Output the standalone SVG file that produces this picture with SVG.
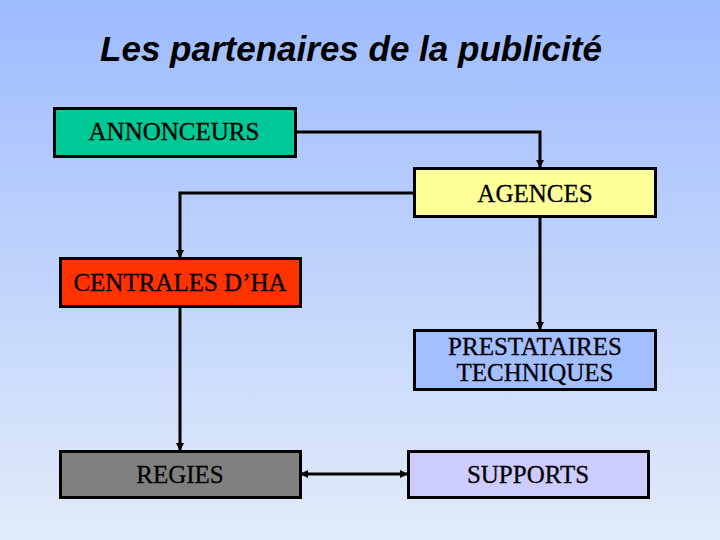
<svg xmlns="http://www.w3.org/2000/svg" width="720" height="540" viewBox="0 0 720 540">
<defs>
<linearGradient id="bg" x1="0" y1="0" x2="0" y2="1">
<stop offset="0" stop-color="#9DBBFF"/>
<stop offset="1" stop-color="#E2EBF9"/>
</linearGradient>
<marker id="ah" markerWidth="8" markerHeight="8" refX="7" refY="4" orient="auto" markerUnits="userSpaceOnUse">
<path d="M0,0 L8,4 L0,8 Z" fill="#000"/>
</marker>
<marker id="as" markerWidth="8" markerHeight="8" refX="1" refY="4" orient="auto" markerUnits="userSpaceOnUse">
<path d="M8,0 L0,4 L8,8 Z" fill="#000"/>
</marker>
<style>
.box{stroke:#000;stroke-width:3}
.lbl{font-family:"Liberation Serif","Times New Roman",serif;font-size:25px;fill:#000;stroke:#000;stroke-width:0.3;text-anchor:middle}
.con{fill:none;stroke:#000;stroke-width:3}
</style>
</defs>
<rect width="720" height="540" fill="url(#bg)"/>
<text x="351" y="61" font-family="'Liberation Sans',Arial,sans-serif" font-size="35" font-weight="bold" font-style="italic" text-anchor="middle" fill="#000">Les partenaires de la publicité</text>
<g id="connectors">
<path class="con" d="M295,132 H540 V167" marker-end="url(#ah)"/>
<path class="con" d="M414,193 H180 V257" marker-end="url(#ah)"/>
<path class="con" d="M540,216 V329" marker-end="url(#ah)"/>
<path class="con" d="M180,306 V450" marker-end="url(#ah)"/>
<path class="con" d="M301,474 H407" marker-start="url(#as)" marker-end="url(#ah)"/>
</g>
<g id="annonceurs">
<rect class="box" x="54.5" y="108.5" width="241" height="48" fill="#00C896"/>
<text class="lbl" x="174" y="140">ANNONCEURS</text>
</g>
<g id="agences">
<rect class="box" x="414.5" y="168.5" width="241" height="48" fill="#FFFF99"/>
<text class="lbl" x="535" y="202">AGENCES</text>
</g>
<g id="centrales">
<rect class="box" x="60.5" y="258.5" width="240" height="48" fill="#FF3300"/>
<text class="lbl" x="180" y="291">CENTRALES D’HA</text>
</g>
<g id="prestataires">
<rect class="box" x="414.5" y="330.5" width="241" height="59" fill="#A3BFFF"/>
<text class="lbl" x="535" y="355">PRESTATAIRES</text>
<text class="lbl" x="535" y="381">TECHNIQUES</text>
</g>
<g id="regies">
<rect class="box" x="60.5" y="451.5" width="240" height="46" fill="#808080"/>
<text class="lbl" x="180" y="483">REGIES</text>
</g>
<g id="supports">
<rect class="box" x="408.5" y="451.5" width="240" height="46" fill="#CCCCFF"/>
<text class="lbl" x="528" y="483">SUPPORTS</text>
</g>
</svg>
